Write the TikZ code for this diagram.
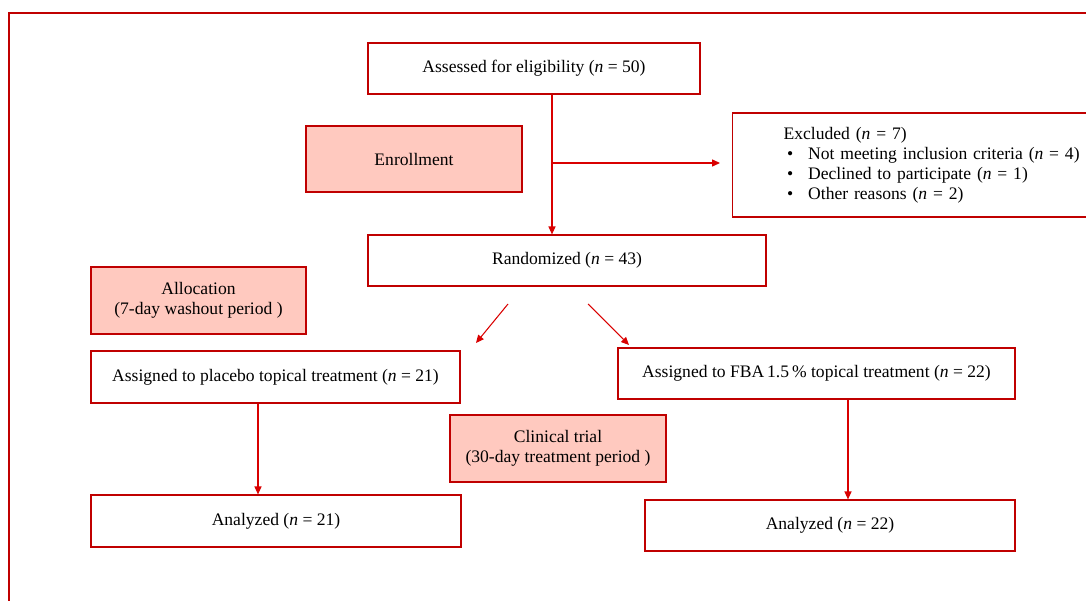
\documentclass[tikz,border=0pt]{standalone}
\usepackage{fontspec}
\setmainfont{Liberation Serif}
\usepackage{xcolor}
\usetikzlibrary{arrows.meta}

\definecolor{framered}{RGB}{192,0,0}
\definecolor{phasefill}{RGB}{255,201,191}

\begin{document}
\begin{tikzpicture}[x=0.02cm,y=-0.02cm,
  box/.style={draw=framered,line width=0.7pt,fill=white,align=center,
    font=\fontsize{10}{11.3}\selectfont,inner sep=0pt},
  phasebox/.style={box,fill=phasefill},
  flow/.style={-{Triangle[length=4.5pt,width=4pt]},draw=red!85!black,line width=0.6pt}]

\useasboundingbox (0,0) rectangle (1086,601);

% frame
\draw[framered,line width=0.6pt] (9,601) -- (9,13) -- (1086,13);

% top part
\node[box,minimum width=6.64cm,minimum height=1.02cm] (Assessed) at (534,68.5) {Assessed for eligibility (\textit{n} = 50)};
\node[phasebox,minimum width=4.32cm,minimum height=1.32cm] (Enrollment) at (414,159) {Enrollment};
\node[box,anchor=west,align=left,text width=6.2cm,inner xsep=1.02cm,minimum height=2.08cm] (Excluded) at (732,165)
  {Excluded (\textit{n} = 7)\\
   \hspace*{2pt}\makebox[12pt][l]{\textbullet}Not meeting inclusion criteria (\textit{n} = 4)\\
   \hspace*{2pt}\makebox[12pt][l]{\textbullet}Declined to participate (\textit{n} = 1)\\
   \hspace*{2pt}\makebox[12pt][l]{\textbullet}Other reasons (\textit{n} = 2)};
\node[box,minimum width=7.96cm,minimum height=1.02cm] (Randomized) at (567,260.5) {Randomized (\textit{n} = 43)};

\coordinate (split) at (552,163);

\draw[flow] (Assessed.south -| split) -- (Randomized.north -| split);
\draw[flow,shorten >=0.24cm] (split) -- (split -| Excluded.west);

% allocation
\node[phasebox,minimum width=4.3cm,minimum height=1.34cm] (Allocation) at (198.5,300.5) {Allocation\\(7-day washout period )};
\node[box,minimum width=7.38cm,minimum height=1.04cm] (Placebo) at (275.5,377) {Assigned to placebo topical treatment (\textit{n} = 21)};
\node[box,minimum width=7.94cm,minimum height=1.02cm] (FBA) at (816.5,373.5) {Assigned to FBA\,1.5\,\% topical treatment (\textit{n} = 22)};

\coordinate (leftfrom) at (508,304);
\coordinate (leftto) at (476,343);
\coordinate (rightfrom) at (588,304);
\coordinate (rightto) at (629,345);

\draw[flow] (leftfrom) -- (leftto);
\draw[flow] (rightfrom) -- (rightto);

% clinical trial
\node[phasebox,minimum width=4.32cm,minimum height=1.34cm] (Clinical) at (558,448.5) {Clinical trial\\(30-day treatment period )};
\node[box,minimum width=7.4cm,minimum height=1.04cm] (AnalyzedA) at (276,521) {Analyzed (\textit{n} = 21)};
\node[box,minimum width=7.4cm,minimum height=1.02cm] (AnalyzedB) at (830,525.5) {Analyzed (\textit{n} = 22)};

\draw[flow] ([xshift=-0.35cm]Placebo.south) -- ([xshift=-0.35cm]Placebo.south |- AnalyzedA.north);
\draw[flow] ([xshift=0.63cm]FBA.south) -- ([xshift=0.63cm]FBA.south |- AnalyzedB.north);

\end{tikzpicture}
\end{document}
